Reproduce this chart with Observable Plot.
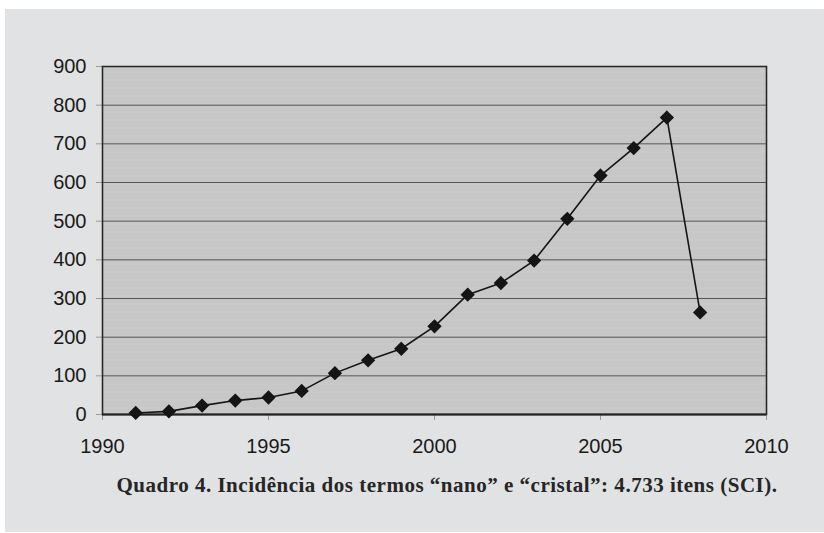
<!DOCTYPE html>
<html>
<head>
<meta charset="utf-8">
<script src="https://cdn.jsdelivr.net/npm/d3@7"></script>
<script src="https://cdn.jsdelivr.net/npm/@observablehq/plot@0.6"></script>
<style>
  html, body { margin: 0; padding: 0; background: #ffffff; }
  #wrap { position: relative; width: 824px; height: 533px; overflow: hidden; }
  #bg { position: absolute; left: 5px; top: 9px; width: 819px; height: 523px; background: #e1e2e3; }
  #chart { position: absolute; left: 0; top: 0; }
  #caption { position: absolute; left: 0; top: 473px; width: 894px; text-align: center; line-height: 24px;
    font-family: "Liberation Serif", "DejaVu Serif", serif; font-weight: bold; font-size: 21px; color: #262626; white-space: nowrap; }
</style>
</head>
<body>
<div id="wrap">
  <div id="bg"></div>
  <div id="chart"></div>
  <div id="caption">Quadro 4. Incidência dos termos “nano” e “cristal”: 4.733 itens (SCI).</div>
</div>
<script>
const years = [1991, 1992, 1993, 1994, 1995, 1996, 1997, 1998, 1999, 2000, 2001, 2002, 2003, 2004, 2005, 2006, 2007, 2008];
const counts = [4, 8, 23, 36, 44, 61, 107, 140, 170, 228, 310, 340, 398, 506, 618, 689, 768, 264];
const xTicks = [1990, 1995, 2000, 2005, 2010];
const yTicks = [0, 100, 200, 300, 400, 500, 600, 700, 800, 900];
const gridValues = [100, 200, 300, 400, 500, 600, 700, 800];

const data = years.map((y, i) => ({year: y, count: counts[i]}));

const plot = Plot.plot({
  width: 824,
  height: 460,
  marginLeft: 102,
  marginRight: 58,
  marginTop: 66,
  marginBottom: 46,
  style: {background: "transparent", fontFamily: "'Liberation Sans', Arial, sans-serif", fontSize: "20px", color: "#1a1a1a"},
  x: {domain: [1990, 2010]},
  y: {domain: [0, 900]},
  marks: [
    Plot.frame({fill: "#c8c8c8", stroke: null}),
    Plot.ruleY(gridValues, {stroke: "#555555", strokeWidth: 1}),
    Plot.axisX({ticks: xTicks, tickFormat: d => String(d), tickSize: 6, tickPadding: 18, stroke: "#9a9a9a", fill: "#1a1a1a", label: null, fontSize: 20}),
    Plot.axisY({ticks: yTicks, tickFormat: d => String(d), tickSize: 6, tickPadding: 10, stroke: "#9a9a9a", fill: "#1a1a1a", label: null, fontSize: 20}),
    Plot.frame({stroke: "#2a2a2a", strokeWidth: 1.6, fill: null}),
    Plot.ruleY([0], {stroke: "#222222", strokeWidth: 2}),
    Plot.line(data, {x: "year", y: "count", stroke: "#151515", strokeWidth: 1.6}),
    Plot.dot(data, {x: "year", y: "count", symbol: "diamond2", r: 5.5, fill: "#151515", stroke: "#151515"})
  ]
});

// halftone texture for the plot background
const ns = "http://www.w3.org/2000/svg";
const defs = document.createElementNS(ns, "defs");
defs.innerHTML = `<pattern id="halftone" width="8" height="8" patternUnits="userSpaceOnUse">
  <rect width="8" height="8" fill="#cbcbcb"/>
  <rect x="0" y="0" width="1" height="1" fill="#b9b9b9"/><rect x="2" y="0" width="1" height="1" fill="#b9b9b9"/>
  <rect x="4" y="0" width="1" height="1" fill="#b9b9b9"/><rect x="6" y="0" width="1" height="1" fill="#b9b9b9"/>
  <rect x="1" y="2" width="1" height="1" fill="#b9b9b9"/><rect x="3" y="2" width="1" height="1" fill="#b9b9b9"/>
  <rect x="5" y="2" width="1" height="1" fill="#b9b9b9"/><rect x="7" y="2" width="1" height="1" fill="#b9b9b9"/>
  <rect x="0" y="4" width="1" height="1" fill="#b9b9b9"/><rect x="2" y="4" width="1" height="1" fill="#b9b9b9"/>
  <rect x="4" y="4" width="1" height="1" fill="#b9b9b9"/><rect x="6" y="4" width="1" height="1" fill="#b9b9b9"/>
  <rect x="1" y="6" width="1" height="1" fill="#b9b9b9"/><rect x="3" y="6" width="1" height="1" fill="#b9b9b9"/>
  <rect x="5" y="6" width="1" height="1" fill="#b9b9b9"/><rect x="7" y="6" width="1" height="1" fill="#b9b9b9"/>
  <rect x="0" y="7" width="8" height="1" fill="#d3d3d3" opacity="0.6"/>
</pattern>`;
plot.insertBefore(defs, plot.firstChild);
const bgRect = plot.querySelector('[aria-label="frame"] rect') || plot.querySelector('[aria-label="frame"]');
if (bgRect) bgRect.setAttribute("fill", "url(#halftone)");

document.getElementById("chart").appendChild(plot);

// fit caption width to the reference (about 661px, centred near x=447) with letter spacing
const cap = document.getElementById("caption");
const span = document.createElement("span");
span.textContent = cap.textContent;
cap.textContent = "";
cap.appendChild(span);
const w = span.getBoundingClientRect().width;
const n = span.textContent.length;
if (w > 0 && n > 0) {
  const ls = (661 - w) / n;
  span.style.letterSpacing = ls.toFixed(3) + "px";
}
</script>
</body>
</html>
